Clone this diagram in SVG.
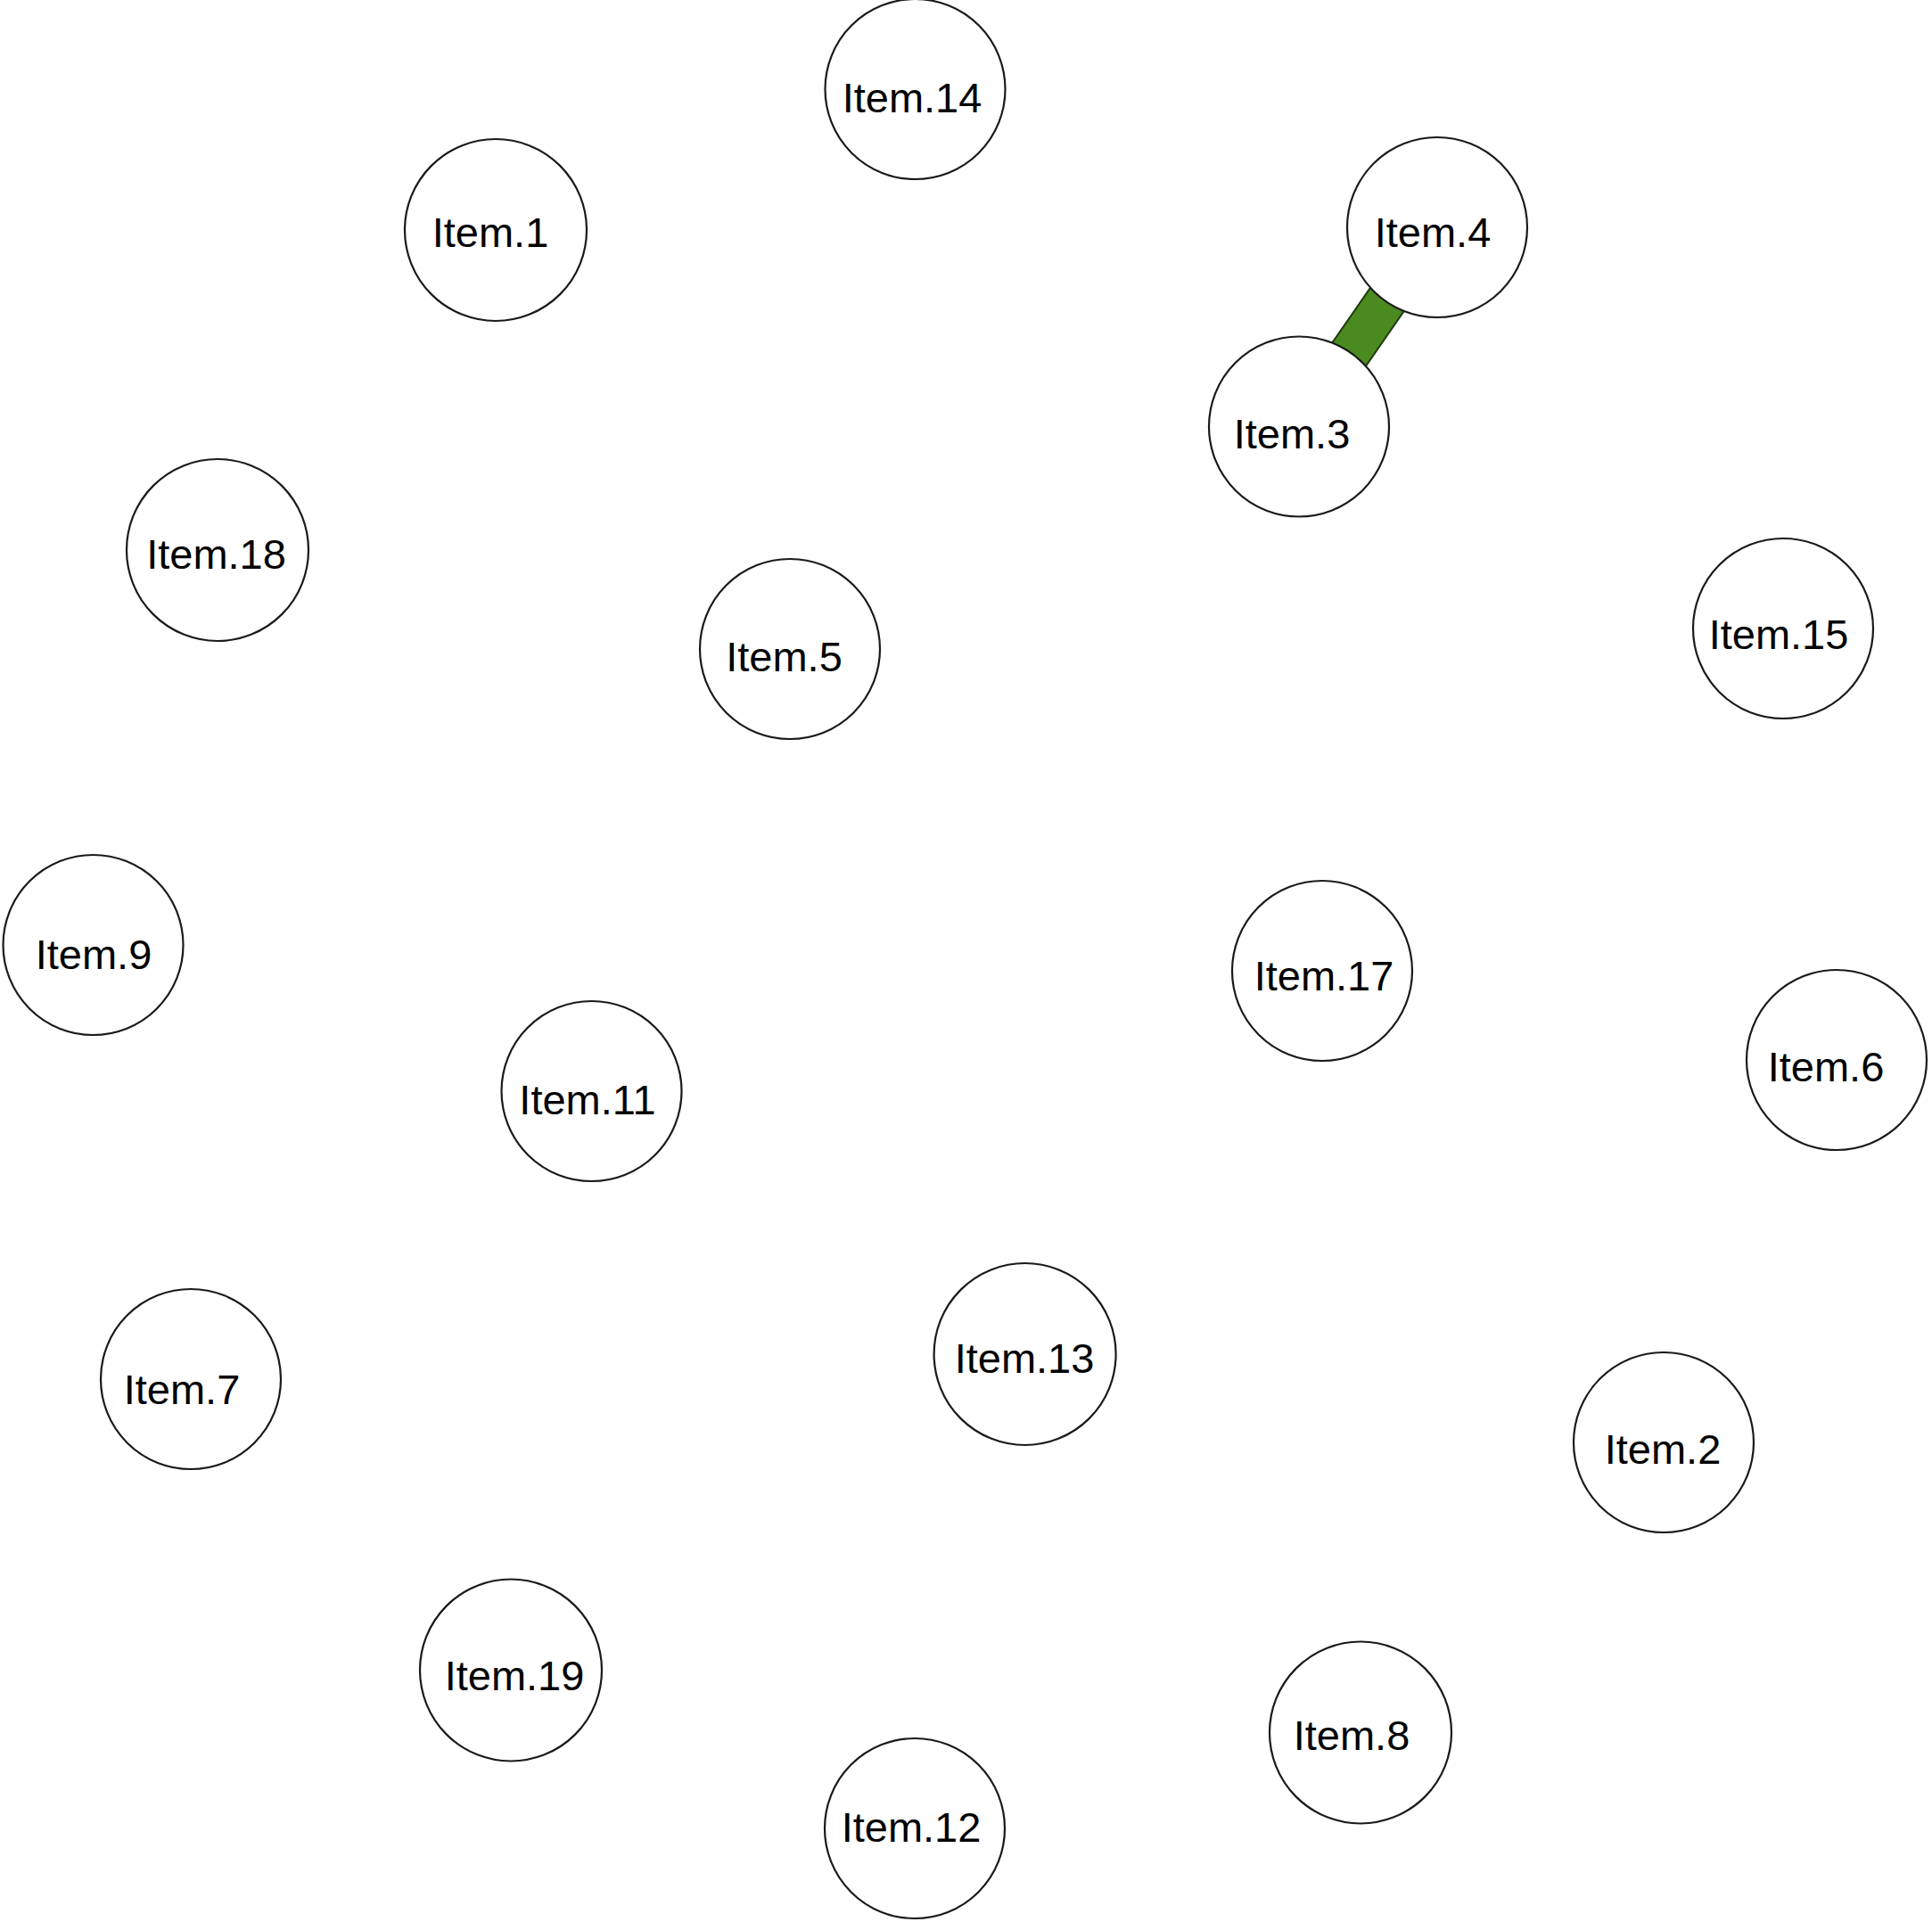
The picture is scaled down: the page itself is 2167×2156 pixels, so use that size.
<svg xmlns="http://www.w3.org/2000/svg" width="2167" height="2156" viewBox="0 0 2167 2156">
<style>
.n circle{fill:#fff;stroke:#1a1a1a;stroke-width:2.2}
.n text{font-family:"Liberation Sans",Arial,sans-serif;font-size:47px;fill:#000;text-anchor:middle}
.e{fill:#4b8a1f;stroke:#1e3a0c;stroke-width:2}
</style>
<rect width="2167" height="2156" fill="#fff"/>
<g id="edges">
<polygon class="e" points="1579.6,342.1 1541.8,315.9 1489.4,391.4 1527.2,417.6"/>
</g>
<g id="node-14" class="n"><circle cx="1026.5" cy="100" r="101"/><text x="1023" y="126">Item.14</text></g>
<g id="node-1" class="n"><circle cx="556" cy="258" r="102"/><text x="550" y="277">Item.1</text></g>
<g id="node-4" class="n"><circle cx="1612" cy="255" r="101"/><text x="1607" y="277">Item.4</text></g>
<g id="node-3" class="n"><circle cx="1457" cy="478.5" r="101"/><text x="1449" y="503">Item.3</text></g>
<g id="node-18" class="n"><circle cx="244" cy="617" r="102"/><text x="242.5" y="638">Item.18</text></g>
<g id="node-5" class="n"><circle cx="886" cy="728" r="101"/><text x="879.5" y="753">Item.5</text></g>
<g id="node-15" class="n"><circle cx="2000" cy="705" r="101"/><text x="1995" y="728">Item.15</text></g>
<g id="node-9" class="n"><circle cx="104.5" cy="1060" r="101"/><text x="105" y="1087">Item.9</text></g>
<g id="node-17" class="n"><circle cx="1483" cy="1089" r="101"/><text x="1485" y="1111">Item.17</text></g>
<g id="node-6" class="n"><circle cx="2060" cy="1189" r="101"/><text x="2048" y="1213">Item.6</text></g>
<g id="node-11" class="n"><circle cx="663.5" cy="1224" r="101"/><text x="659" y="1250">Item.11</text></g>
<g id="node-7" class="n"><circle cx="214" cy="1547" r="101"/><text x="204" y="1575">Item.7</text></g>
<g id="node-13" class="n"><circle cx="1149.6" cy="1519" r="102"/><text x="1149" y="1540">Item.13</text></g>
<g id="node-2" class="n"><circle cx="1866" cy="1618" r="101"/><text x="1865" y="1642">Item.2</text></g>
<g id="node-19" class="n"><circle cx="573" cy="1873.5" r="102"/><text x="577" y="1896">Item.19</text></g>
<g id="node-8" class="n"><circle cx="1526" cy="1943.5" r="102"/><text x="1516" y="1963">Item.8</text></g>
<g id="node-12" class="n"><circle cx="1026" cy="2051" r="101"/><text x="1022" y="2066">Item.12</text></g>
</svg>
